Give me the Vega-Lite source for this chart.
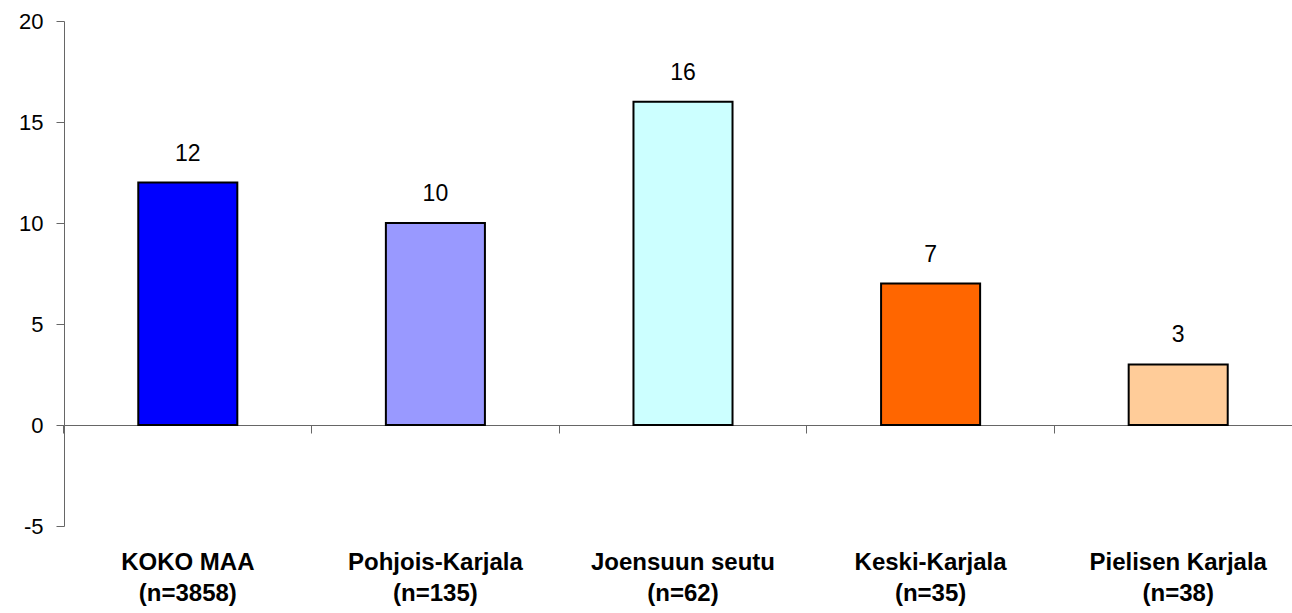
{
  "$schema": "https://vega.github.io/schema/vega-lite/v6.json",
  "width": 1238,
  "height": 505,
  "autosize": {"type": "none"},
  "padding": {"left": 64, "top": 21, "right": 0, "bottom": 87},
  "background": "white",
  "config": {"view": {"stroke": null}, "font": "Liberation Sans"},
  "data": {"values": [
    {"alue": "KOKO MAA|(n=3858)", "arvo": 12, "vari": "#0000FF"},
    {"alue": "Pohjois-Karjala|(n=135)", "arvo": 10, "vari": "#9999FF"},
    {"alue": "Joensuun seutu|(n=62)", "arvo": 16, "vari": "#CCFFFF"},
    {"alue": "Keski-Karjala|(n=35)", "arvo": 7, "vari": "#FF6600"},
    {"alue": "Pielisen Karjala|(n=38)", "arvo": 3, "vari": "#FFCC99"}
  ]},
  "resolve": {"axis": {"x": "independent"}},
  "layer": [
    {
      "mark": {"type": "bar", "stroke": "black", "strokeWidth": 2},
      "encoding": {
        "x": {"field": "alue", "type": "nominal", "sort": null,
          "scale": {"paddingInner": 0.6, "paddingOuter": 0.3},
          "axis": {"orient": "bottom", "offset": -101, "title": null, "labels": false,
            "domain": true, "domainColor": "#666666", "domainWidth": 1,
            "ticks": true, "tickColor": "#666666", "tickSize": 8, "bandPosition": -0.75}},
        "y": {"field": "arvo", "type": "quantitative",
          "scale": {"domain": [-5, 20], "nice": false, "zero": false},
          "axis": {"title": null, "values": [-5, 0, 5, 10, 15, 20], "grid": false,
            "labelExpr": "datum.value < 0 ? '-' + abs(datum.value) : '' + datum.value",
            "domainColor": "#666666", "tickColor": "#666666", "tickSize": 8,
            "labelFontSize": 22, "labelColor": "black", "labelPadding": 13}},
        "fill": {"field": "vari", "type": "nominal", "scale": null}
      }
    },
    {
      "mark": {"type": "text", "dy": -29, "baseline": "middle", "fontSize": 23, "color": "black"},
      "encoding": {
        "x": {"field": "alue", "type": "nominal", "sort": null,
          "axis": {"orient": "bottom", "title": null, "domain": false, "ticks": false,
            "labelAngle": 0, "labelFontSize": 24, "labelFontWeight": "bold", "labelColor": "black",
            "labelPadding": 24, "labelLineHeight": 31, "labelLimit": 400,
            "labelExpr": "split(datum.label, '|')"}},
        "y": {"field": "arvo", "type": "quantitative"},
        "text": {"field": "arvo", "type": "quantitative"}
      }
    }
  ]
}
